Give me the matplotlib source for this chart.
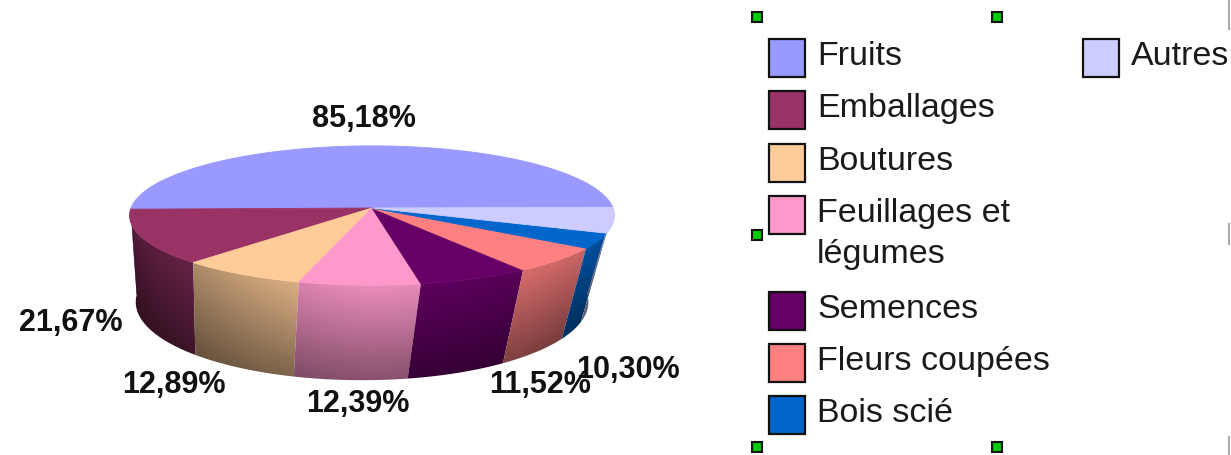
import numpy as np
import matplotlib
matplotlib.use("Agg")
import matplotlib.pyplot as plt
from matplotlib.patches import Polygon, Rectangle
from matplotlib.colors import to_rgb

# data (Bois scié / Autres have no printed value, estimated)
categories = ["Fruits", "Emballages", "Boutures", "Feuillages et\nlégumes",
              "Semences", "Fleurs coupées", "Bois scié", "Autres"]
values = [85.18, 21.67, 12.89, 12.39, 11.52, 10.30, 6.0, 10.0]
value_labels = ["85,18%", "21,67%", "12,89%", "12,39%", "11,52%", "10,30%", "", ""]
colors = ["#9999FF", "#993366", "#FFCC99", "#FF99CC",
          "#660066", "#FF8080", "#0066CC", "#CCCCFF"]

# label anchor points (pixels)
label_xy = [(364, 119), (71, 323), (174, 385), (358, 404), (540, 385), (628, 370), None, None]

# 3D view of the pie (pixels, y grows downward)
cx, cy = 372, 209          # projected centre of the pie top
scale, dist = 2140, 8.88   # perspective
elev = np.radians(16.6)
height = 0.376             # cylinder height (radius = 1)
vx, shrink = 191, 0.945    # extra horizontal convergence of the base
fruits_end = 181.0

fig = plt.figure(figsize=(12.31, 4.56), dpi=100)
ax = fig.add_axes([0, 0, 1, 1])
ax.set_xlim(0, 1231)
ax.set_ylim(456, 0)
ax.axis("off")


def project(t, z):
    t = np.radians(t)
    X, Y = np.cos(t), np.sin(t)
    yc = Y * np.sin(elev) + z * np.cos(elev)
    w = dist + Y * np.cos(elev) - z * np.sin(elev)
    return cx + scale * X / w, cy - scale * yc / w


def top_pt(t):
    return project(t, 0.0)


def bot_pt(t):
    x, y = project(t, -height)
    return vx + (x - vx) * shrink, y


fracs = np.array(values) / np.sum(values)
start = fruits_end - fracs[0] * 360
bounds = start + np.concatenate([[0], np.cumsum(fracs) * 360])

# side walls (front half only), with a shaded gradient
for i, col in enumerate(colors):
    t1, t2 = bounds[i], bounds[i + 1]
    a, b = max(t1, 180), min(t2, 360)
    if b - a < 0.5:
        continue
    ts = np.linspace(a, b, 80)
    tx, ty = top_pt(ts)
    bx, by = bot_pt(ts)
    pts = np.column_stack([np.concatenate([tx, bx[::-1]]),
                           np.concatenate([ty, by[::-1]])])
    patch = Polygon(pts, closed=True, facecolor="none", edgecolor="none")
    ax.add_patch(patch)

    x0, x1 = pts[:, 0].min() - 1, pts[:, 0].max() + 1
    y0, y1 = pts[:, 1].min() - 1, pts[:, 1].max() + 1
    X, Y = np.meshgrid(np.linspace(x0, x1, 140), np.linspace(y0, y1, 140))
    ytop = np.interp(X, tx, ty)
    ybot = np.interp(X, bx, by)
    v = np.clip((Y - ytop) / np.maximum(ybot - ytop, 1), 0, 1)
    u = np.clip((X - cx) / 241, -1, 1)
    h = 0.92 - 0.38 * np.clip(-u, 0, 1) ** 1.5 - 0.18 * np.clip(u, 0, 1) ** 2
    f = h * (1 - 0.42 * v)
    img = np.clip(np.array(to_rgb(col))[None, None, :] * f[..., None], 0, 1)
    im = ax.imshow(img, extent=(x0, x1, y1, y0), origin="upper",
                   aspect="auto", interpolation="bilinear", zorder=1)
    im.set_clip_path(patch)

# top faces
for i, col in enumerate(colors):
    ts = np.linspace(bounds[i], bounds[i + 1], 160)
    tx, ty = top_pt(ts)
    pts = np.column_stack([np.concatenate([[cx], tx]), np.concatenate([[cy], ty])])
    ax.add_patch(Polygon(pts, closed=True, facecolor=col, edgecolor=col,
                         linewidth=0.6, zorder=2))

# value labels
for lab, xy in zip(value_labels, label_xy):
    if lab and xy is not None:
        ax.text(xy[0], xy[1], lab, ha="center", va="center", fontsize=22,
                fontweight="bold", family="Liberation Sans", color="#111111", zorder=5)

# legend (drawn by hand to match the Excel layout)
sq_w, sq_h = 36, 38
pitch = 52.4
extra = 0
for i, (name, col) in enumerate(zip(categories, colors)):
    if name == "Autres":
        sx, sy = 1083, 40
    else:
        sx, sy = 769, 40 + i * pitch + extra
        if "\n" in name:
            extra = 43
    ax.add_patch(Rectangle((sx, sy), sq_w, sq_h, facecolor=col,
                           edgecolor="#111111", linewidth=1.6, zorder=3))
    ax.text(sx + 48, sy + 1, name, ha="left", va="top", fontsize=24.5,
            family="Liberation Sans", color="#1a1a1a", linespacing=1.42, zorder=3)

# legend selection handles
for hx, hy in [(757, 18), (997, 18), (757, 236), (757, 448), (997, 448)]:
    ax.add_patch(Rectangle((hx - 5, hy - 5), 10, 10, facecolor="#00cc00",
                           edgecolor="#111111", linewidth=1.5, zorder=4))
for y_a, y_b in [(0, 30), (225, 245), (438, 456)]:
    ax.plot([1229, 1229], [y_a, y_b], color="#aaaaaa", linewidth=1.5, zorder=4)

fig.savefig("out.png", dpi=100)
